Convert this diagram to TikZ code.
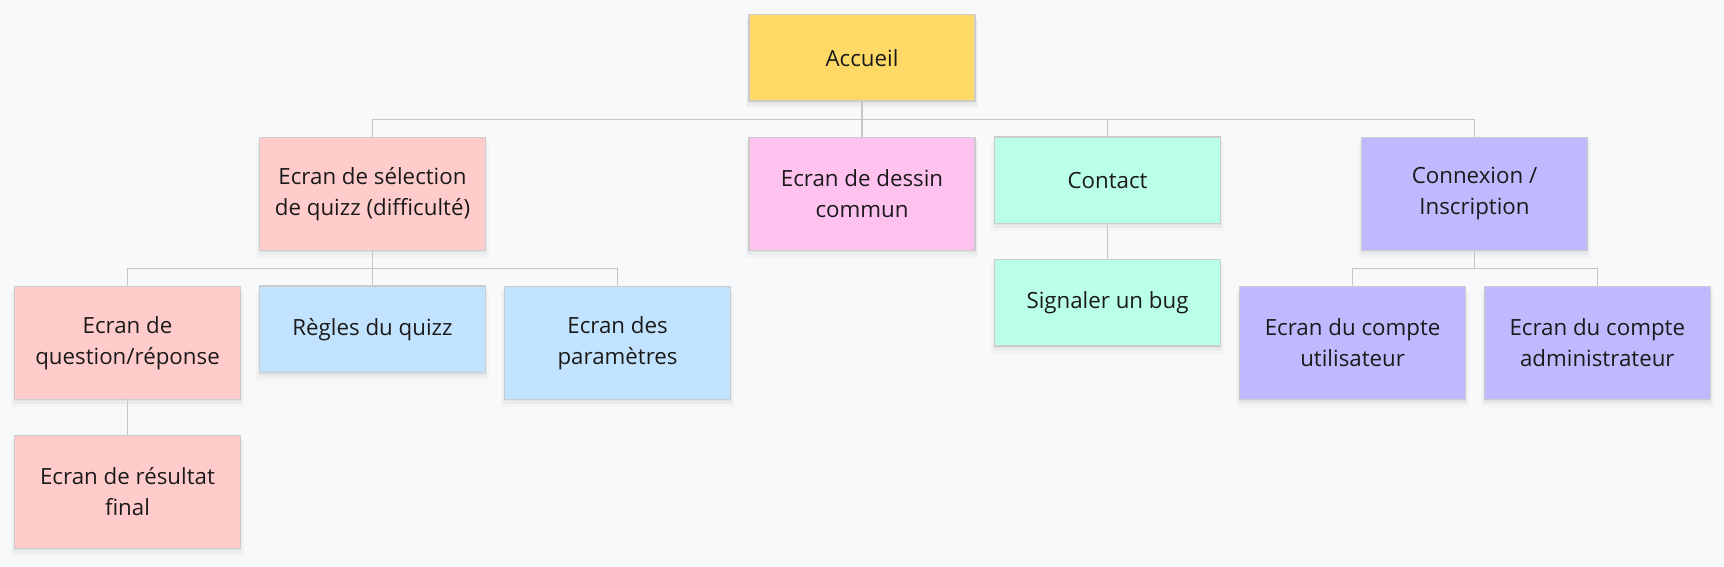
\documentclass[tikz,border=0pt]{standalone}
\usepackage{fontspec}
\setmainfont{Open Sans}
\usetikzlibrary{shadows}
\definecolor{bgc}{HTML}{F8F9FB}
\definecolor{linec}{HTML}{C6C6C6}
\definecolor{bordc}{HTML}{CCCCCC}
\definecolor{cyellow}{HTML}{FFD966}
\definecolor{cred}{HTML}{FFCCCB}
\definecolor{cpink}{HTML}{FFC1EE}
\definecolor{cmint}{HTML}{BAFFE9}
\definecolor{cviolet}{HTML}{BFBAFF}
\definecolor{cblue}{HTML}{C2E3FF}
\definecolor{txtc}{HTML}{1A1A1A}
\begin{document}
\begin{tikzpicture}[x=1pt,y=-1pt,
  box/.style={draw=bordc, line width=1.2pt, minimum width=226pt, align=center,
    text=txtc, font=\fontsize{22.3}{31}\selectfont, inner sep=0pt,
    general shadow={draw=none, fill=black, fill opacity=0.025, shadow yshift=-6pt, shadow scale=1.03},
    general shadow={draw=none, fill=black, fill opacity=0.03, shadow yshift=-4pt, shadow scale=1.015},
    general shadow={draw=none, fill=black, fill opacity=0.035, shadow yshift=-2pt}},
  short/.style={box, minimum height=86.5pt},
  tall/.style={box, minimum height=113pt},
  link/.style={draw=linec, line width=1.2pt}
]
\fill[bgc] (0,0) rectangle (1724,566);
\useasboundingbox (0,0) rectangle (1724,566);

\node[short, fill=cyellow] (acc) at (862,57.7) {Accueil};
\node[tall, fill=cred] (sel) at (372.5,193.7) {Ecran de sélection\\de quizz (difficulté)};
\node[tall, fill=cpink] (des) at (862,193.7) {Ecran de dessin\\commun};
\node[short, fill=cmint] (con) at (1107.5,180.2) {Contact};
\node[tall, fill=cviolet] (cnx) at (1474.5,193.7) {Connexion /\\Inscription};
\node[short, fill=cmint] (bug) at (1107.5,302.8) {Signaler un bug};
\node[tall, fill=cred] (que) at (127.5,342.8) {Ecran de\\question/réponse};
\node[short, fill=cblue] (reg) at (372.5,329.3) {Règles du quizz};
\node[tall, fill=cblue] (par) at (617.6,342.8) {Ecran des\\paramètres};
\node[tall, fill=cred] (res) at (127.5,491.8) {Ecran de résultat\\final};
\node[tall, fill=cviolet] (usr) at (1352.6,343) {Ecran du compte\\utilisateur};
\node[tall, fill=cviolet] (adm) at (1597.3,343) {Ecran du compte\\administrateur};

\foreach \c in {sel,des,con,cnx}
  \draw[link] (acc.south) -- ++(0,18.3) -| (\c.north);
\foreach \c in {que,reg,par}
  \draw[link] (sel.south) -- ++(0,18) -| (\c.north);
\foreach \c in {usr,adm}
  \draw[link] (cnx.south) -- ++(0,18) -| (\c.north);
\draw[link] (con.south) -- (bug.north);
\draw[link] (que.south) -- (res.north);
\end{tikzpicture}
\end{document}
